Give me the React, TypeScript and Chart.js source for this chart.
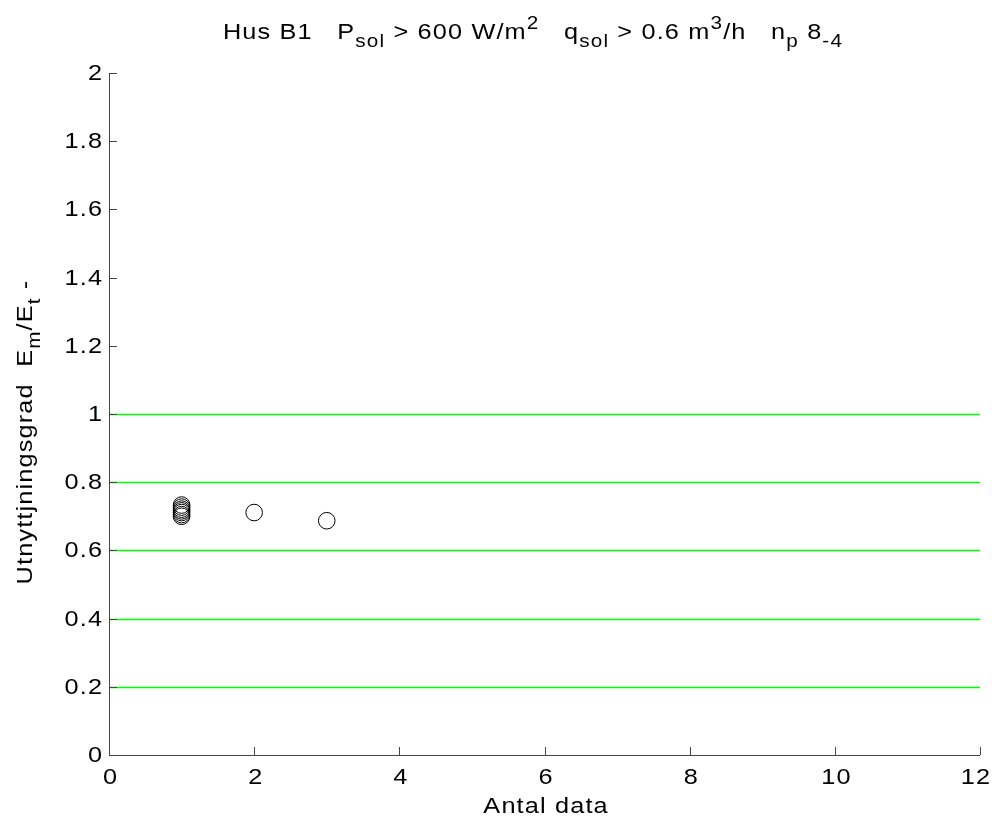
import React, { useEffect, useRef } from "react";
import { Chart, registerables } from "chart.js";
Chart.register(...registerables);

const xValues = [1, 1, 1, 1, 1, 1, 1, 2, 3];
const yValues = [0.733, 0.727, 0.721, 0.716, 0.711, 0.705, 0.700, 0.711, 0.687];
const xTicks = [0, 2, 4, 6, 8, 10, 12];
const yTicks = [0, 0.2, 0.4, 0.6, 0.8, 1, 1.2, 1.4, 1.6, 1.8, 2];
const greenLines = [0.2, 0.4, 0.6, 0.8, 1];
const xTitle = "Antal data";

type Seg = { t: string; s?: "sub" | "sup" };
const titleSegs: Seg[] = [
  { t: "Hus B1   P" }, { t: "sol", s: "sub" }, { t: " > 600 W/m" }, { t: "2", s: "sup" },
  { t: "   q" }, { t: "sol", s: "sub" }, { t: " > 0.6 m" }, { t: "3", s: "sup" },
  { t: "/h   n" }, { t: "p", s: "sub" }, { t: " 8" }, { t: "-4", s: "sub" },
];
const ylabelSegs: Seg[] = [
  { t: "Utnyttjningsgrad  E" }, { t: "m", s: "sub" }, { t: "/E" }, { t: "t", s: "sub" }, { t: " -" },
];

const FONT = "Liberation Sans, Arial, sans-serif";
const SIZE = 22;
const SX = 1.15;
const SPACING = "1px";

function setFont(ctx: CanvasRenderingContext2D, size: number) {
  ctx.font = `${size}px ${FONT}`;
  (ctx as any).letterSpacing = SPACING;
}

function measure(ctx: CanvasRenderingContext2D, t: string, size: number) {
  setFont(ctx, size);
  return ctx.measureText(t).width * SX;
}

function put(ctx: CanvasRenderingContext2D, t: string, x: number, y: number, size: number, baseline: CanvasTextBaseline) {
  ctx.save();
  setFont(ctx, size);
  ctx.textAlign = "left";
  ctx.textBaseline = baseline;
  ctx.translate(x, y);
  ctx.scale(SX, 1);
  ctx.fillText(t, 0, 0);
  ctx.restore();
}

function drawRich(ctx: CanvasRenderingContext2D, segs: Seg[], cx: number, cy: number, size: number) {
  const small = Math.round(size * 0.8);
  const widths = segs.map((sg) => measure(ctx, sg.t, sg.s ? small : size));
  const total = widths.reduce((a, b) => a + b, 0);
  let x = cx - total / 2;
  segs.forEach((sg, i) => {
    const dy = sg.s === "sub" ? size * 0.38 : sg.s === "sup" ? -size * 0.45 : 0;
    put(ctx, sg.t, x, cy + dy, sg.s ? small : size, "alphabetic");
    x += widths[i];
  });
}

const decor = {
  id: "decor",
  afterDraw(chart: any) {
    const ctx = chart.ctx as CanvasRenderingContext2D;
    const xs = chart.scales.x;
    const ys = chart.scales.y;
    const { left, right, top, bottom } = chart.chartArea;
    ctx.save();
    ctx.strokeStyle = "#444";
    ctx.lineWidth = 1;
    ctx.beginPath();
    ctx.moveTo(left + 0.5, top);
    ctx.lineTo(left + 0.5, bottom + 0.5);
    ctx.lineTo(right, bottom + 0.5);
    ctx.stroke();
    const tl = 8;
    ctx.beginPath();
    xTicks.forEach((v) => {
      const px = Math.round(xs.getPixelForValue(v)) + 0.5;
      ctx.moveTo(px, bottom);
      ctx.lineTo(px, bottom - tl);
    });
    yTicks.forEach((v) => {
      const py = Math.round(ys.getPixelForValue(v)) + 0.5;
      ctx.moveTo(left, py);
      ctx.lineTo(left + tl, py);
    });
    ctx.stroke();

    ctx.fillStyle = "#000";
    yTicks.forEach((v) => {
      const t = String(v);
      const w = measure(ctx, t, SIZE) - SX;
      put(ctx, t, left - 7 - w, ys.getPixelForValue(v) + 1, SIZE, "middle");
    });
    const maxX = chart.width - 2;
    xTicks.forEach((v) => {
      const t = String(v);
      const w = measure(ctx, t, SIZE) - SX;
      let x0 = xs.getPixelForValue(v) + 1 - w / 2;
      if (x0 + w > maxX) x0 = maxX - w;
      put(ctx, t, x0, bottom + 23, SIZE, "middle");
    });
    const wt = measure(ctx, xTitle, SIZE) - SX;
    put(ctx, xTitle, (left + right) / 2 + 1 - wt / 2, bottom + 58, SIZE, "alphabetic");

    drawRich(ctx, titleSegs, 533, 39, SIZE);
    ctx.translate(32, 432);
    ctx.rotate(-Math.PI / 2);
    drawRich(ctx, ylabelSegs, 0, 0, SIZE);
    ctx.restore();
  },
  beforeDatasetsDraw(chart: any) {
    const ctx = chart.ctx as CanvasRenderingContext2D;
    const ys = chart.scales.y;
    const { left, right } = chart.chartArea;
    ctx.save();
    ctx.strokeStyle = "#00ff00";
    ctx.lineWidth = 1.4;
    ctx.beginPath();
    greenLines.forEach((v) => {
      const py = Math.round(ys.getPixelForValue(v)) + 0.5;
      ctx.moveTo(left + 1, py);
      ctx.lineTo(right, py);
    });
    ctx.stroke();
    ctx.restore();
  },
};

export default function App() {
  const ref = useRef<HTMLCanvasElement>(null);
  useEffect(() => {
    const chart = new Chart(ref.current!, {
      type: "scatter",
      data: {
        datasets: [
          {
            data: xValues.map((x, i) => ({ x, y: yValues[i] })),
            pointStyle: "circle",
            pointRadius: 8.3,
            pointBorderWidth: 1,
            pointBorderColor: "#000",
            pointBackgroundColor: "rgba(0,0,0,0)",
            showLine: false,
          },
        ],
      },
      options: {
        animation: false,
        responsive: false,
        events: [],
        layout: { padding: { top: 73, right: 12, left: 0, bottom: 0 } },
        plugins: { legend: { display: false }, tooltip: { enabled: false }, title: { display: false } },
        scales: {
          x: {
            type: "linear",
            min: 0,
            max: 12,
            afterBuildTicks: (s: any) => { s.ticks = xTicks.map((v) => ({ value: v })); },
            afterFit: (s: any) => { s.height = 65; },
            grid: { display: false, drawTicks: false },
            border: { display: false },
            ticks: { display: false },
          },
          y: {
            type: "linear",
            min: 0,
            max: 2,
            afterBuildTicks: (s: any) => { s.ticks = yTicks.map((v) => ({ value: v })); },
            afterFit: (s: any) => { s.width = 109; },
            grid: { display: false, drawTicks: false },
            border: { display: false },
            ticks: { display: false },
          },
        },
      },
      plugins: [decor],
    } as any);
    return () => chart.destroy();
  }, []);
  return (
    <div style={{ position: "fixed", left: 0, top: 0, width: 992, height: 820, background: "#fff" }}>
      <canvas ref={ref} width={992} height={820} style={{ width: 992, height: 820 }} />
    </div>
  );
}
